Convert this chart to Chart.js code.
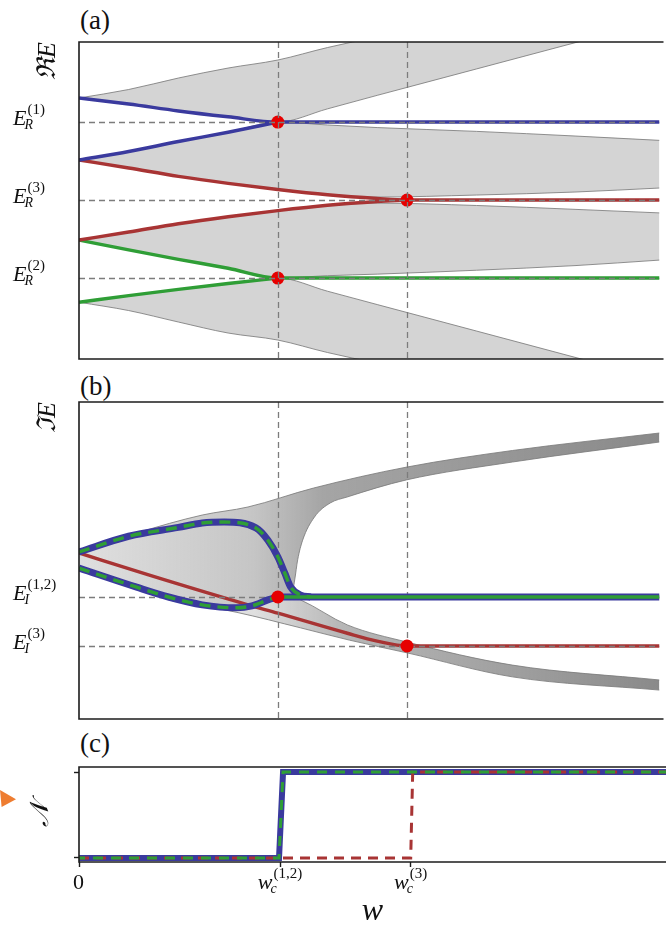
<!DOCTYPE html>
<html>
<head>
<meta charset="utf-8">
<script src="https://cdn.jsdelivr.net/npm/chart.js@4.4.1/dist/chart.umd.min.js"></script>
<style>
  html, body { margin: 0; padding: 0; background: #fff; width: 666px; height: 940px; overflow: hidden; }
  .panel { position: absolute; left: 0; width: 666px; }
  .tag { position: absolute; left: 80px; font: 27px "Liberation Serif", "Times New Roman", "DejaVu Serif", serif; line-height: 1; color: #111; }
  .arrow { position: absolute; left: 0; top: 790px; width: 16px; height: 17px; background: #ee7d31;
           clip-path: polygon(0 0, 100% 55%, 10% 100%); }
</style>
</head>
<body>
<div class="tag" style="top:7px">(a)</div>
<div class="tag" style="top:373px">(b)</div>
<div class="tag" style="top:730px">(c)</div>
<div class="arrow"></div>
<div class="panel" style="top:0;height:370px"><canvas id="chartA" width="666" height="370"></canvas></div>
<div class="panel" style="top:370px;height:360px"><canvas id="chartB" width="666" height="360"></canvas></div>
<div class="panel" style="top:730px;height:210px"><canvas id="chartC" width="666" height="210"></canvas></div>
<script>
// ---------- data (w, E) ----------
const W_MAX = 2.92;
const wTicks   = [0, 1.0, 1.65];
const wTickSup = ['', '(1,2)', '(3)'];
const wTickSub = ['', 'c', 'c'];
const wTickBase = ['0', 'w', 'w'];

// panel (a) : Re E
const reTickE   = [1, 0, -1];
const reTickSup = ['(1)', '(3)', '(2)'];
const reBlueUpper  = [[0,1.308],[0.25,1.231],[0.5,1.142],[0.75,1.067],[1.0,1.0],[W_MAX,1.0]];
const reBlueLower  = [[0,0.513],[0.25,0.622],[0.5,0.75],[0.75,0.869],[1.0,1.0]];
const reRedUpper   = [[0,0.513],[0.25,0.41],[0.5,0.304],[0.75,0.214],[1.0,0.135],[1.25,0.067],[1.5,0.019],[1.65,0],[W_MAX,0]];
const reRedLower   = [[0,-0.513],[0.25,-0.41],[0.5,-0.304],[0.75,-0.214],[1.0,-0.135],[1.25,-0.067],[1.5,-0.019],[1.65,0]];
const reGreenUpper = [[0,-0.513],[0.25,-0.64],[0.5,-0.76],[0.75,-0.875],[1.0,-1.0],[W_MAX,-1.0]];
const reGreenLower = [[0,-1.31],[0.25,-1.225],[0.5,-1.145],[0.75,-1.07],[1.0,-1.0]];
const reDots = [[1.0,1],[1.65,0],[1.0,-1]];
// gray bundles (edges)
const reBand1Top = [[0,1.308],[0.25,1.417],[0.5,1.564],[0.75,1.692],[1.0,1.795],[1.25,1.955],[1.5,2.09],[2.0,2.3],[W_MAX,2.5]];
const reBand1Bot = [[0,1.308],[0.25,1.231],[0.5,1.142],[0.75,1.067],[1.0,1.0],[1.25,1.169],[1.5,1.342],[2.0,1.681],[2.5,2.02],[W_MAX,2.3]];
const reBand2Top = [[0,0.513],[0.25,0.622],[0.5,0.75],[0.75,0.869],[1.0,1.0],[1.25,0.962],[1.5,0.929],[2.0,0.88],[2.5,0.82],[W_MAX,0.765]];
const reBand2Bot = [[0,0.513],[0.25,0.41],[0.5,0.304],[0.75,0.214],[1.0,0.135],[1.25,0.067],[1.5,0.038],[2.0,0.064],[2.5,0.103],[W_MAX,0.154]];
const reBand3Top = [[0,-0.513],[0.25,-0.41],[0.5,-0.304],[0.75,-0.214],[1.0,-0.135],[1.25,-0.067],[1.5,-0.04],[2.0,-0.07],[2.5,-0.12],[W_MAX,-0.165]];
const reBand3Bot = [[0,-0.513],[0.25,-0.64],[0.5,-0.76],[0.75,-0.875],[1.0,-1.0],[1.25,-0.97],[1.5,-0.95],[2.0,-0.9],[2.5,-0.84],[W_MAX,-0.77]];
const reBand4Top = [[0,-1.31],[0.25,-1.225],[0.5,-1.145],[0.75,-1.07],[1.0,-1.0],[1.25,-1.169],[1.5,-1.34],[2.0,-1.68],[2.5,-2.02],[W_MAX,-2.3]];
const reBand4Bot = [[0,-1.31],[0.25,-1.417],[0.5,-1.564],[0.75,-1.705],[1.0,-1.795],[1.25,-1.955],[1.5,-2.09],[2.0,-2.3],[W_MAX,-2.5]];

// panel (b) : Im E
const imTickE   = [0, -1];
const imTickSup = ['(1,2)', '(3)'];
const imBlueUpper = [[0,0.92],[0.25,1.24],[0.5,1.42],[0.62,1.51],[0.73,1.53],[0.89,1.41],[0.95,1.16],[1.0,0.82],[1.035,0.49],[1.065,0.2],[1.115,0.04],[1.165,0]];
const imBlueLower = [[0,0.59],[0.29,0.2],[0.45,0],[0.62,-0.16],[0.79,-0.22],[0.87,-0.18],[0.95,-0.06],[1.0,0]];
const imFlat      = [[1.0,0],[W_MAX,0]];
const imRed       = [[0,0.9],[0.35,0.45],[0.85,-0.16],[1.0,-0.33],[1.35,-0.74],[1.5,-0.9],[1.65,-1.0],[W_MAX,-1.0]];
const imDots = [[1.0,0],[1.65,-1.0]];
const imGrayTop   = [[0,0.918],[0.29,1.306],[0.62,1.673],[0.85,1.837],[1.18,2.224],[1.65,2.653],[2.18,2.99],[W_MAX,3.347]];
const imGrayInner = [[0,0.59],[0.29,0.2],[0.45,0],[0.62,-0.16],[0.79,-0.22],[0.87,-0.18],[0.95,-0.06],[1.0,0],[1.07,0.05],[1.085,0.35],[1.1,0.76],[1.125,1.16],[1.184,1.63],[1.264,1.92],[1.348,2.04],[1.647,2.39],[2.18,2.755],[W_MAX,3.163]];
const imGrayLowTop = [[0.45,0],[0.62,-0.16],[0.79,-0.22],[0.87,-0.18],[0.95,-0.06],[1.0,0],[1.05,0.03],[1.115,-0.06],[1.35,-0.57],[1.65,-0.92],[2.18,-1.39],[W_MAX,-1.694]];
const imGrayLowBot = [[0.45,-0.06],[0.79,-0.31],[1.115,-0.63],[1.36,-0.88],[1.65,-1.14],[2.18,-1.63],[W_MAX,-1.9]];

// panel (c) : winding number
const nTicks = [0, 1];
const nBlue  = [[0,0],[0.995,0],[1.015,1],[W_MAX,1]];
const nRed   = [[0,0],[1.65,0],[1.66,1],[W_MAX,1]];

// ---------- helpers ----------
const BLUE = '#3a3a9e', RED = '#a83434', GREEN = '#2f9e36', DOT = '#e60000';
const SERIF = '"Liberation Serif", "Times New Roman", "DejaVu Serif", serif';

const pts = arr => arr.map(p => ({x: p[0], y: p[1]}));

function line(data, color, width, order, extra) {
  return Object.assign({
    data: pts(data), borderColor: color, borderWidth: width, pointRadius: 0,
    fill: false, order: order, cubicInterpolationMode: 'monotone'
  }, extra || {});
}

function hGrad(stops) {
  return (c) => {
    const a = c.chart.chartArea;
    if (!a) return stops[0][1];
    const g = c.chart.ctx.createLinearGradient(a.left, 0, a.right, 0);
    stops.forEach(s => g.addColorStop(s[0], s[1]));
    return g;
  };
}

// band = two edge lines, the second filled up to the first
function band(top, bot, fillColor) {
  const edge = 'rgba(125,125,125,0.85)';
  return [
    line(top, edge, 1, 30),
    line(bot, edge, 1, 30, {fill: '-1', backgroundColor: fillColor})
  ];
}

function drawRefs(chart, o) {
  const {ctx, chartArea: a, scales} = chart;
  ctx.save();
  ctx.beginPath(); ctx.rect(a.left, a.top, a.right - a.left, a.bottom - a.top); ctx.clip();
  ctx.strokeStyle = '#7c7c7c'; ctx.lineWidth = 1.3; ctx.setLineDash([6, 4]);
  (o.x || []).forEach(v => {
    const px = Math.round(scales.x.getPixelForValue(v)) + 0.5;
    ctx.beginPath(); ctx.moveTo(px, a.top); ctx.lineTo(px, a.bottom); ctx.stroke();
  });
  (o.y || []).forEach(v => {
    const py = Math.round(scales.y.getPixelForValue(v)) + 0.5;
    ctx.beginPath(); ctx.moveTo(a.left, py); ctx.lineTo(a.right, py); ctx.stroke();
  });
  ctx.restore();
}

const refPlugin = {
  id: 'refLines',
  afterDatasetDraw(chart, args, o) {
    if (chart.data.datasets[args.index].refsAfter) drawRefs(chart, o);
  },
  afterDatasetsDraw(chart, args, o) {
    if (!chart.data.datasets.some(d => d.refsAfter)) drawRefs(chart, o);
  }
};

const boxPlugin = {
  id: 'box',
  afterDraw(chart) {
    const {ctx, chartArea: a} = chart;
    ctx.save();
    ctx.strokeStyle = '#1c1c1c'; ctx.lineWidth = 1.6; ctx.setLineDash([]);
    ctx.beginPath();
    ctx.moveTo(a.right + 4, a.top); ctx.lineTo(a.left, a.top);
    ctx.lineTo(a.left, a.bottom); ctx.lineTo(a.right + 4, a.bottom);
    ctx.stroke();
    ctx.restore();
  }
};

// E_R^(1) style labels: italic base, italic subscript, upright superscript
function mathText(ctx, x, y, base, sub, sup, center) {
  const fb = 'italic 22px ' + SERIF, fs = 'italic 14px ' + SERIF, fp = '15px ' + SERIF;
  const upright = !sub && !sup;
  ctx.font = upright ? '22px ' + SERIF : fb;
  const bw = ctx.measureText(base).width;
  ctx.font = fs; const sw = sub ? ctx.measureText(sub).width : 0;
  ctx.font = fp; const pw = sup ? ctx.measureText(sup).width : 0;
  const total = bw + Math.max(sw, pw + 1);
  const x0 = center ? x - total / 2 : x;
  ctx.textAlign = 'left'; ctx.textBaseline = 'alphabetic'; ctx.fillStyle = '#111';
  ctx.font = upright ? '22px ' + SERIF : fb; ctx.fillText(base, x0, y);
  if (sup) { ctx.font = fp; ctx.fillText(sup, x0 + bw + 1, y - 11); }
  if (sub) { ctx.font = fs; ctx.fillText(sub, x0 + bw - 2, y + 4); }
}

const mathPlugin = {
  id: 'mathLabels',
  afterDraw(chart, args, o) {
    if (!o.values) return;
    const {ctx, scales, chartArea: a} = chart;
    ctx.save();
    o.values.forEach((v, i) => {
      if (o.axis === 'y') {
        mathText(ctx, 13, scales.y.getPixelForValue(v) + 3, 'E', o.sub, o.sups[i], false);
      } else {
        mathText(ctx, scales.x.getPixelForValue(v), a.bottom + 27, o.bases[i], o.subs[i], o.sups[i], true);
      }
    });
    ctx.restore();
  }
};

function yTitle(text, align, size) {
  return {display: true, text: text, align: align, color: '#111',
          font: {family: SERIF, size: size, style: 'italic'}, padding: {top: 33, bottom: 0}};
}

function baseOptions(padTop, padBottom, yMin, yMax) {
  return {
    responsive: false, animation: false, events: [],
    layout: {padding: {top: padTop, bottom: padBottom, left: 0, right: 0}},
    plugins: {legend: {display: false}, tooltip: {enabled: false}},
    scales: {
      x: {type: 'linear', display: false, min: 0, max: W_MAX},
      y: {type: 'linear', min: yMin, max: yMax,
          ticks: {display: false}, grid: {display: false}, border: {display: false},
          afterFit: s => { s.width = 79; }}
    }
  };
}

// ---------- panel (a) ----------
const grayA = 'rgba(120,120,120,0.32)';
const optsA = baseOptions(42, 11, -2.038, 2.026);
optsA.scales.y.title = yTitle('ℜE', 'end', 26);
optsA.plugins.refLines = {x: wTicks.slice(1), y: reTickE};
optsA.plugins.mathLabels = {axis: 'y', values: reTickE, sups: reTickSup, sub: 'R'};

new Chart(document.getElementById('chartA'), {
  type: 'line',
  data: {datasets: [
    ...band(reBand1Top, reBand1Bot, grayA),
    ...band(reBand2Top, reBand2Bot, grayA),
    ...band(reBand3Top, reBand3Bot, grayA),
    ...band(reBand4Top, reBand4Bot, grayA),
    line(reBlueUpper, BLUE, 3.4, 10),
    line(reBlueLower, BLUE, 3.4, 10),
    line(reRedUpper, RED, 3.4, 10),
    line(reRedLower, RED, 3.4, 10),
    line(reGreenUpper, GREEN, 3.4, 10),
    line(reGreenLower, GREEN, 3.4, 10),
    {data: pts(reDots), showLine: false, pointRadius: 6.5, pointBackgroundColor: DOT,
     pointBorderWidth: 0, order: 1}
  ]},
  options: optsA,
  plugins: [refPlugin, boxPlugin, mathPlugin]
});

// ---------- panel (b) ----------
const optsB = baseOptions(32, 11, -2.49, 3.98);
optsB.scales.y.title = yTitle('ℑE', 'end', 26);
optsB.plugins.refLines = {x: wTicks.slice(1), y: imTickE};
optsB.plugins.mathLabels = {axis: 'y', values: imTickE, sups: imTickSup, sub: 'I'};

const lensFill = hGrad([[0, 'rgba(150,150,150,0.30)'], [0.3, 'rgba(140,140,140,0.50)'],
                        [0.42, 'rgba(130,130,130,0.72)'], [1, 'rgba(125,125,125,0.90)']]);
const lowFill = hGrad([[0, 'rgba(150,150,150,0.25)'], [0.3, 'rgba(150,150,150,0.30)'],
                       [0.45, 'rgba(135,135,135,0.60)'], [1, 'rgba(125,125,125,0.90)']]);

new Chart(document.getElementById('chartB'), {
  type: 'line',
  data: {datasets: [
    ...band(imGrayTop, imGrayInner, lensFill),
    ...band(imGrayLowTop, imGrayLowBot, lowFill),
    line(imRed, RED, 3.4, 15, {refsAfter: true}),
    line(imBlueUpper, BLUE, 7, 10),
    line(imBlueLower, BLUE, 7, 10),
    line(imFlat, BLUE, 7, 10, {cubicInterpolationMode: 'default'}),
    line(imBlueUpper, GREEN, 3.4, 5, {borderDash: [11, 7]}),
    line(imBlueLower, GREEN, 3.4, 5, {borderDash: [11, 7]}),
    line(imFlat, GREEN, 3.6, 5, {cubicInterpolationMode: 'default'}),
    {data: pts(imDots), showLine: false, pointRadius: 6.5, pointBackgroundColor: DOT,
     pointBorderWidth: 0, order: 1}
  ]},
  options: optsB,
  plugins: [refPlugin, boxPlugin, mathPlugin]
});

// ---------- panel (c) ----------
const optsC = {
  responsive: false, animation: false, events: [],
  layout: {padding: {top: 37, bottom: 0, left: 0, right: 0}},
  plugins: {legend: {display: false}, tooltip: {enabled: false},
            mathLabels: {axis: 'x', values: wTicks, bases: wTickBase, subs: wTickSub, sups: wTickSup}},
  scales: {
    x: {type: 'linear', min: 0, max: W_MAX,
        afterBuildTicks: s => { s.ticks = wTicks.map(v => ({value: v})); },
        ticks: {display: false},
        grid: {drawOnChartArea: false, drawTicks: true, tickLength: 5, tickColor: '#1c1c1c', tickWidth: 1.4},
        border: {display: false},
        title: {display: true, text: 'w', color: '#111', font: {family: SERIF, size: 32, style: 'italic'},
                padding: {top: 0, bottom: 9}},
        afterFit: s => { s.height = 78; }},
    y: {type: 'linear', min: -0.047, max: 1.059,
        afterBuildTicks: s => { s.ticks = nTicks.map(v => ({value: v})); },
        ticks: {display: false},
        grid: {drawOnChartArea: false, drawTicks: true, tickLength: 5, tickColor: '#1c1c1c', tickWidth: 1.4},
        border: {display: false},
        title: {display: true, text: '𝒩', align: 'center', color: '#111',
                font: {family: SERIF, size: 26, style: 'italic'}, padding: {top: 26, bottom: 0}},
        afterFit: s => { s.width = 79; }}
  }
};

new Chart(document.getElementById('chartC'), {
  type: 'line',
  data: {datasets: [
    line(nBlue, BLUE, 6, 10, {cubicInterpolationMode: 'default'}),
    line(nRed, RED, 3, 6, {cubicInterpolationMode: 'default', borderDash: [10, 7]}),
    line(nBlue, GREEN, 3, 5, {cubicInterpolationMode: 'default', borderDash: [10, 8], borderDashOffset: 4})
  ]},
  options: optsC,
  plugins: [boxPlugin, mathPlugin]
});
</script>
</body>
</html>
